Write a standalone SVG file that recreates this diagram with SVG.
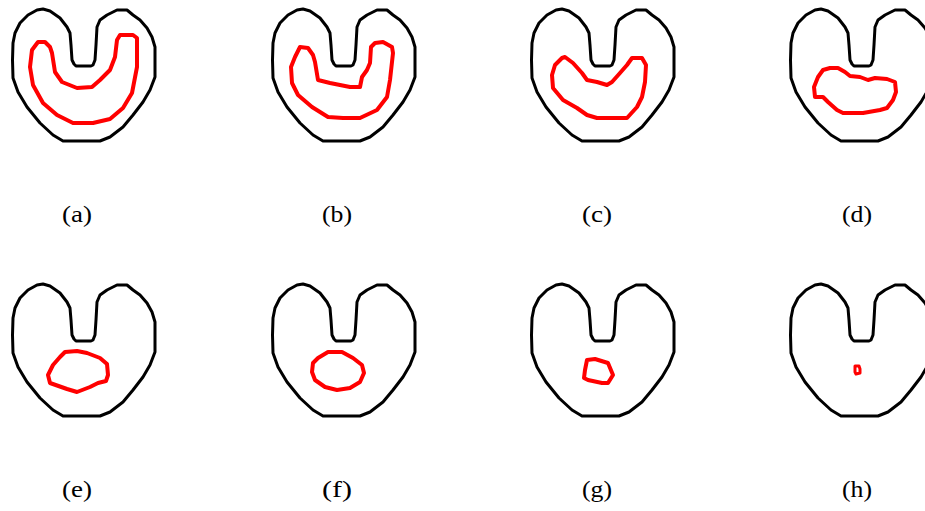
<svg xmlns="http://www.w3.org/2000/svg" width="925" height="511" viewBox="0 0 925 511">
<style>
.outline{fill:none;stroke:#000;stroke-width:3;stroke-linejoin:round;stroke-linecap:round}
.red{fill:none;stroke:#ff0000;stroke-width:4;stroke-linejoin:round;stroke-linecap:round}
.lbl{font-family:"Liberation Serif","DejaVu Serif",serif;font-size:23px;fill:#000;text-anchor:middle}
</style>
<defs>
<path id="shape" d="M70,33 L67,27 L60,18 L50,11 L43,9 L37,10 L28,15 L20,23 L15,33 L13,43 L12.5,60 L13,78 L18,92 L27,107 L40,123 L53,135 L63,141 L100,141 L110,137 L123,127 L133,115 L143,102 L150,90 L155,77 L155,47 L152,37 L147,28 L140,20 L133,15 L127,10 L117,10 L107,15 L100,20 L97,27 L96,45 L95,60 L93,65 L91,66 L76,66 L74,64 L72,60 L71,45 Z"/>
</defs>
<rect width="925" height="511" fill="#fff"/>
<g id="panel-a">
<use href="#shape" class="outline"/>
<path class="red" d="M38,42 L45,42 L50,47 L52,53 L55,72 L62,82 L77,88 L92,87 L100,80 L110,70 L115,57 L117,40 L120,35 L133,35 L137,38 L137,67 L132,93 L123,108 L110,119 L93,123 L73,123 L57,115 L43,103 L33,85 L30,67 L32,50 Z"/>
<text class="lbl" x="77" y="222" textLength="30" lengthAdjust="spacingAndGlyphs">(a)</text>
</g>
<g id="panel-b">
<use href="#shape" class="outline" x="260"/>
<path class="red" d="M300,47 L308,48 L313,55 L315,62 L318,80 L330,83 L350,87 L360,87 L362,77 L367,70 L370,63 L371,47 L375,43 L383,42 L392,47 L393,53 L390,80 L387,97 L377,110 L360,118 L343,118 L328,117 L312,107 L298,95 L292,83 L291,67 L295,57 Z"/>
<text class="lbl" x="337" y="222" textLength="30" lengthAdjust="spacingAndGlyphs">(b)</text>
</g>
<g id="panel-c">
<use href="#shape" class="outline" x="519"/>
<path class="red" d="M562,58 L565,57 L573,63 L582,73 L587,80 L597,82 L607,85 L612,82 L620,73 L627,65 L632,58 L642,58 L646,65 L645,82 L642,97 L637,107 L627,118 L597,118 L587,115 L577,108 L563,100 L553,88 L552,75 L555,65 Z"/>
<text class="lbl" x="597" y="222" textLength="30" lengthAdjust="spacingAndGlyphs">(c)</text>
</g>
<g id="panel-d">
<use href="#shape" class="outline" x="778"/>
<path class="red" d="M823,70 L830,68 L838,68 L845,72 L850,76 L860,77 L868,80 L875,78 L887,79 L895,82 L896,92 L893,100 L887,108 L880,110 L863,113 L843,113 L837,110 L828,102 L823,97 L815,97 L814,87 L818,77 Z"/>
<text class="lbl" x="857" y="222" textLength="30" lengthAdjust="spacingAndGlyphs">(d)</text>
</g>
<g id="panel-e">
<use href="#shape" class="outline" y="275"/>
<path class="red" d="M65,352 L77,351 L87,353 L100,358 L107,364 L108,375 L106,381 L98,383 L90,387 L77,392 L67,389 L50,383 L48,375 L53,365 L60,357 Z"/>
<text class="lbl" x="77" y="497" textLength="30" lengthAdjust="spacingAndGlyphs">(e)</text>
</g>
<g id="panel-f">
<use href="#shape" class="outline" x="260" y="275"/>
<path class="red" d="M318,358 L328,352 L342,352 L353,358 L362,365 L364,373 L360,382 L350,388 L337,390 L325,387 L315,380 L312,372 L313,363 Z"/>
<text class="lbl" x="337" y="497" textLength="30" lengthAdjust="spacingAndGlyphs">(f)</text>
</g>
<g id="panel-g">
<use href="#shape" class="outline" x="519" y="275"/>
<path class="red" d="M587,360 L595,359 L608,363 L613,375 L608,383 L602,383 L588,380 L584,378 L585,370 Z"/>
<text class="lbl" x="597" y="497" textLength="30" lengthAdjust="spacingAndGlyphs">(g)</text>
</g>
<g id="panel-h">
<use href="#shape" class="outline" x="778" y="275"/>
<path class="red" d="M855,366 L859,366 L860,369 L860,373 L856,374 L855,372 Z" style="stroke-width:3"/>
<text class="lbl" x="857" y="497" textLength="30" lengthAdjust="spacingAndGlyphs">(h)</text>
</g>
</svg>
